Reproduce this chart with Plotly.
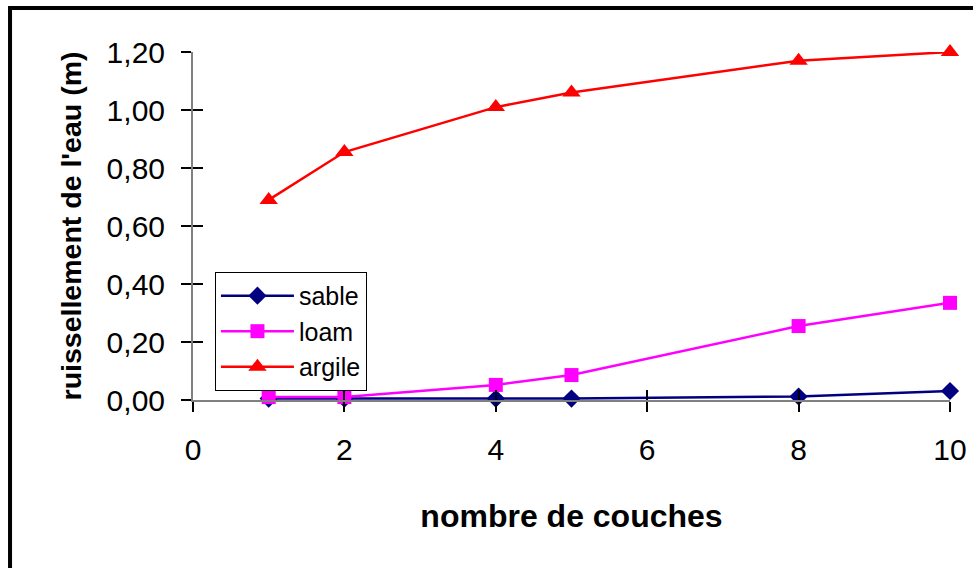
import plotly.graph_objects as go

couches = [1, 2, 4, 5, 8, 10]
sable = [0.005, 0.005, 0.005, 0.005, 0.012, 0.031]
loam = [0.010, 0.010, 0.052, 0.086, 0.255, 0.335]
argile = [0.690, 0.855, 1.010, 1.060, 1.170, 1.200]

x_ticks = [0, 2, 4, 6, 8, 10]
y_ticks = [0, 0.2, 0.4, 0.6, 0.8, 1.0, 1.2]

FONT = "Liberation Sans, Arial, sans-serif"

fig = go.Figure()
fig.add_trace(go.Scatter(x=couches, y=sable, name="sable", mode="lines+markers",
                         line=dict(color="#000080", width=2.5),
                         marker=dict(symbol="diamond", size=14, color="#000080"),
                         cliponaxis=False))
fig.add_trace(go.Scatter(x=couches, y=loam, name="loam", mode="lines+markers",
                         line=dict(color="#FF00FF", width=2.5),
                         marker=dict(symbol="square", size=14, color="#FF00FF"),
                         cliponaxis=False))
fig.add_trace(go.Scatter(x=couches, y=argile, name="argile", mode="lines+markers",
                         line=dict(color="#FF0000", width=2.5),
                         marker=dict(symbol="triangle-up", size=16, color="#FF0000"),
                         cliponaxis=False))

axis_common = dict(showgrid=False, zeroline=False, showline=True, automargin=False,
                   linecolor="#808080", linewidth=2,
                   tickcolor="black", tickwidth=1.5, ticklen=10)

fig.update_layout(
    width=973, height=568,
    margin=dict(l=193, r=23, t=52, b=168, autoexpand=False),
    paper_bgcolor="white", plot_bgcolor="white",
    separators=", ",
    font=dict(family=FONT, color="black", size=30),
    showlegend=True,
    legend=dict(x=0.029, y=0.368, xanchor="left", yanchor="top",
                bordercolor="black", borderwidth=1, bgcolor="white",
                font=dict(size=25, family=FONT), tracegroupgap=0,
                itemwidth=73, entrywidth=170),
    xaxis=dict(range=[0, 10], tickvals=x_ticks, ticks="outside",
               ticklabelstandoff=12,
               title=dict(text="<b>nombre de couches</b>", font=dict(size=32, family=FONT),
                          standoff=40),
               **axis_common),
    yaxis=dict(range=[0, 1.2], tickvals=y_ticks, tickformat=".2f", ticks="outside",
               ticklabelstandoff=10,
               title=dict(text="<b>ruissellement de l'eau (m)</b>", font=dict(size=28.5, family=FONT),
                          standoff=17),
               **axis_common),
    xaxis2=dict(range=[0, 10], tickvals=x_ticks, ticks="inside", showticklabels=False,
                overlaying="x", anchor="y", side="bottom", **axis_common),
    yaxis2=dict(range=[0, 1.2], tickvals=y_ticks, ticks="inside", showticklabels=False,
                overlaying="y", anchor="x", side="left", **axis_common),
    shapes=[dict(type="rect", xref="paper", yref="paper",
                 x0=-0.2417, x1=1.3, y0=-0.8, y1=1.1264,
                 line=dict(color="black", width=4), fillcolor="rgba(0,0,0,0)",
                 layer="above")],
)

# invisible helper trace so the overlay axes are drawn
fig.add_trace(go.Scatter(x=[None], y=[None], xaxis="x2", yaxis="y2",
                         showlegend=False, hoverinfo="skip"))

fig.write_html("out.html", config={"displayModeBar": False},
               post_script="document.body.style.margin='0';document.body.style.overflow='hidden';")
